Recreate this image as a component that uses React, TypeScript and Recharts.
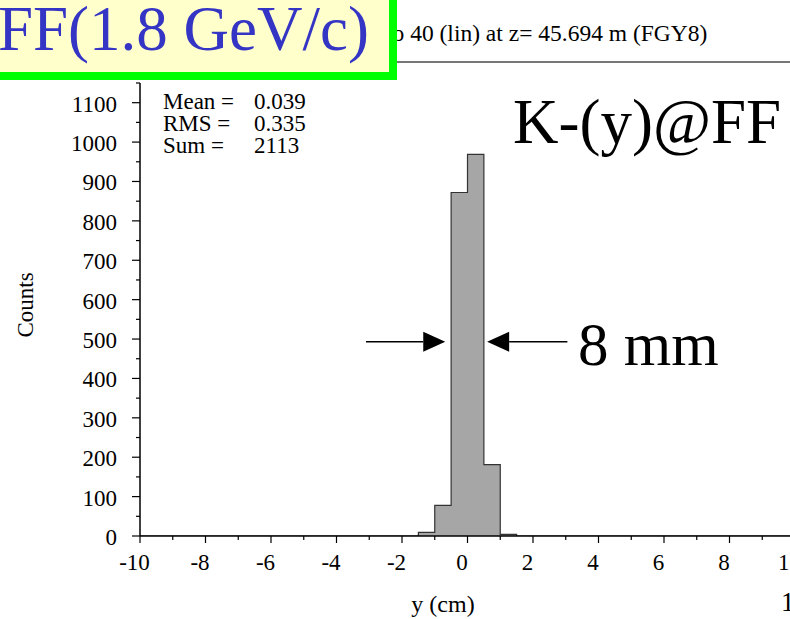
import React from 'react';
import { ComposedChart, Area, XAxis, YAxis, ReferenceLine } from 'recharts';

// Histogram definition: 40 linear bins from -10 cm to 10 cm
const binStart = -10;
const binWidth = 0.5;
const binCounts = [
  0, 0, 0, 0, 0, 0, 0, 0, 0, 0,
  0, 0, 0, 0, 0, 0, 0, 9, 78, 872,
  969, 181, 4, 0, 0, 0, 0, 0, 0, 0,
  0, 0, 0, 0, 0, 0, 0, 0, 0, 0,
];

const xMajorTicks = [-10, -8, -6, -4, -2, 0, 2, 4, 6, 8, 10];
const xMinorTicks = [-9, -7, -5, -3, -1, 1, 3, 5, 7, 9];
const yMajorTicks = [0, 100, 200, 300, 400, 500, 600, 700, 800, 900, 1000, 1100];
const yMinorTicks = [50, 150, 250, 350, 450, 550, 650, 750, 850, 950, 1050, 1150];

const statLabels = ['Mean =', 'RMS =', 'Sum ='];
const statValues = ['0.039', '0.335', '2113'];

// Width markers around the peak (cm, counts)
const arrowLevel = 493;
const leftArrow = [-3.1, -0.68];
const rightArrow = [3.05, 0.6];

const serif = "'Liberation Serif', 'Times New Roman', Times, serif";

const histData = [
  ...binCounts.map((c, i) => ({ edge: binStart + i * binWidth, count: c })),
  { edge: binStart + binCounts.length * binWidth, count: 0 },
];

const allXTicks = [...xMajorTicks, ...xMinorTicks].sort((a, b) => a - b);
const allYTicks = [...yMajorTicks, ...yMinorTicks].sort((a, b) => a - b);

const XTick = (props: any) => {
  const { x, y, payload } = props;
  const v = payload.value;
  const major = xMajorTicks.includes(v);
  return (
    <g>
      <line x1={x} y1={y} x2={x} y2={y + (major ? 7 : 4)} stroke="#000" strokeWidth={1.2} />
      {major && (
        <text x={x - 5.5} y={y + 34} textAnchor="middle" fontSize={23} fontFamily={serif} fill="#000">
          {v}
        </text>
      )}
    </g>
  );
};

const YTick = (props: any) => {
  const { x, y, payload } = props;
  const v = payload.value;
  const major = yMajorTicks.includes(v);
  return (
    <g>
      <line x1={x - (major ? 8 : 4)} y1={y} x2={x} y2={y} stroke="#000" strokeWidth={1.2} />
      {major && (
        <text x={x - 23} y={y + 9} textAnchor="end" fontSize={23} fontFamily={serif} fill="#000">
          {v}
        </text>
      )}
    </g>
  );
};

// Horizontal arrow whose head sits at the segment's second point
const ArrowShape = (props: any) => {
  const { x1, y1, x2, y2 } = props;
  const dir = x2 > x1 ? 1 : -1;
  const headLen = 22;
  const headHalf = 10;
  const bx = x2 - dir * headLen;
  return (
    <g>
      <line x1={x1} y1={y1} x2={bx} y2={y2} stroke="#000" strokeWidth={1.6} />
      <polygon points={`${x2},${y2} ${bx},${y2 - headHalf} ${bx},${y2 + headHalf}`} fill="#000" />
    </g>
  );
};

export default function App() {
  return (
    <div
      style={{
        position: 'absolute',
        left: 0,
        top: 0,
        width: 790,
        height: 619,
        overflow: 'hidden',
        background: '#fff',
      }}
    >
      <ComposedChart
        width={800}
        height={619}
        data={histData}
        margin={{ top: 83, right: 5, bottom: 23, left: 60 }}
      >
        <XAxis
          dataKey="edge"
          type="number"
          domain={[-10, 10]}
          ticks={allXTicks}
          interval={0}
          tickSize={0}
          tickMargin={0}
          tick={<XTick />}
          height={60}
          axisLine={{ stroke: '#000', strokeWidth: 1.5 }}
          tickLine={false}
          allowDataOverflow
        />
        <YAxis
          type="number"
          domain={[0, 1150]}
          ticks={allYTicks}
          interval={0}
          tickSize={0}
          tickMargin={0}
          tick={<YTick />}
          width={80}
          axisLine={{ stroke: '#000', strokeWidth: 1.5 }}
          tickLine={false}
          allowDataOverflow
        />
        <Area
          dataKey="count"
          type="stepAfter"
          stroke="#333"
          strokeWidth={1.2}
          fill="#a6a6a6"
          fillOpacity={1}
          baseValue={0}
          isAnimationActive={false}
          dot={false}
          activeDot={false}
        />
        <ReferenceLine
          segment={[
            { x: leftArrow[0], y: arrowLevel },
            { x: leftArrow[1], y: arrowLevel },
          ]}
          ifOverflow="visible"
          shape={<ArrowShape />}
        />
        <ReferenceLine
          segment={[
            { x: rightArrow[0], y: arrowLevel },
            { x: rightArrow[1], y: arrowLevel },
          ]}
          ifOverflow="visible"
          shape={<ArrowShape />}
        />
      </ComposedChart>

      <svg
        width={790}
        height={619}
        style={{ position: 'absolute', left: 0, top: 0, pointerEvents: 'none' }}
        fontFamily={serif}
      >
        {/* run header */}
        <text x={386} y={41} fontSize={23.5} fill="#000">
          to 40 (lin) at z= 45.694 m (FGY8)
        </text>
        <line x1={396} y1={62} x2={790} y2={62} stroke="#777" strokeWidth={2} />

        {/* beam label box */}
        <rect x={-10} y={-10} width={403} height={86} fill="#ffffcc" stroke="#00ff00" strokeWidth={8} />
        <text x={-2} y={50} fontSize={63} fill="#3535c5">
          FF(1.8 GeV/c)
        </text>

        {/* statistics */}
        {statLabels.map((s, i) => (
          <g key={s}>
            <text x={163} y={109 + i * 22} fontSize={23} fill="#000">
              {s}
            </text>
            <text x={254} y={109 + i * 22} fontSize={23} fill="#000">
              {statValues[i]}
            </text>
          </g>
        ))}

        <text x={513} y={143} fontSize={63} fill="#000">
          K-(y)@FF
        </text>
        <text x={578} y={365} fontSize={61} fill="#000">
          8 mm
        </text>

        <text
          x={25}
          y={305}
          fontSize={23}
          fill="#000"
          textAnchor="middle"
          dominantBaseline="central"
          transform="rotate(-90 25 305)"
        >
          Counts
        </text>
        <text x={443} y={612} fontSize={24} fill="#000" textAnchor="middle">
          y (cm)
        </text>
        <text x={781} y={611} fontSize={27} fill="#000">
          1
        </text>
      </svg>
    </div>
  );
}
